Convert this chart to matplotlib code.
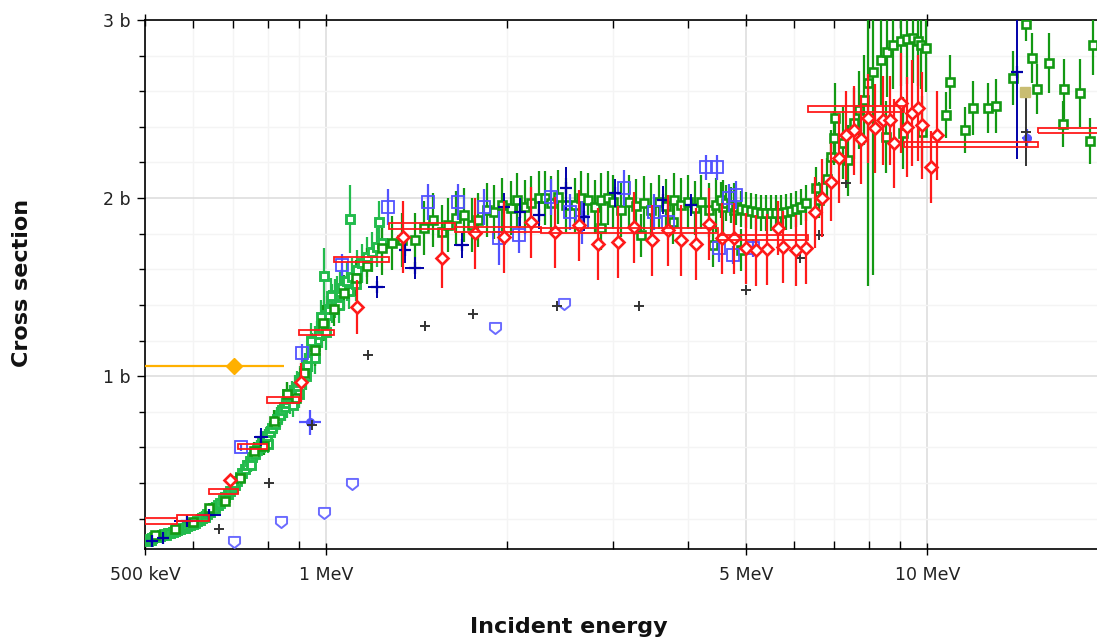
import matplotlib
matplotlib.use("Agg")
import matplotlib.pyplot as plt
from matplotlib.path import Path
from matplotlib.ticker import FixedLocator, FixedFormatter, NullFormatter

# ---------------- data (energy in MeV, cross section in barn) ----------------
# light-green dense data set (low energy rise)
lg_e = [0.505, 0.507, 0.512, 0.514, 0.518, 0.522, 0.526, 0.530, 0.534, 0.538, 0.542, 0.547,
        0.551, 0.556, 0.561, 0.566, 0.571, 0.577, 0.582, 0.588, 0.594, 0.600, 0.606, 0.611,
        0.617, 0.623, 0.629, 0.635, 0.641, 0.647, 0.653, 0.660, 0.666, 0.673, 0.679, 0.686,
        0.692, 0.699, 0.705, 0.712, 0.719, 0.726, 0.733, 0.740, 0.747, 0.754, 0.761, 0.769,
        0.776, 0.784, 0.791, 0.799, 0.806, 0.814, 0.821, 0.829, 0.837, 0.845, 0.853, 0.862,
        0.870, 0.878, 0.887, 0.895, 0.904, 0.913, 0.921, 0.930, 0.939, 0.948, 0.957, 0.966,
        0.975, 0.985, 0.994, 1.004, 1.013, 1.023, 1.033, 1.043, 1.053, 1.063, 1.083, 1.104,
        1.126, 1.147, 1.170, 1.192, 1.215, 1.239,
        0.860, 0.880, 0.900, 0.925, 0.945, 0.960, 0.980, 1.000, 1.020, 1.050, 1.090, 1.120,
        0.750, 0.700, 0.800, 0.992, 1.096, 1.224]
lg_y = [0.075, 0.084, 0.080, 0.090, 0.095, 0.101, 0.098, 0.101, 0.108, 0.112, 0.110, 0.118,
        0.121, 0.124, 0.130, 0.135, 0.140, 0.146, 0.150, 0.157, 0.163, 0.169, 0.178, 0.185,
        0.195, 0.202, 0.212, 0.225, 0.240, 0.253, 0.262, 0.275, 0.290, 0.303, 0.320, 0.337,
        0.355, 0.371, 0.390, 0.410, 0.432, 0.455, 0.478, 0.500, 0.522, 0.545, 0.565, 0.584,
        0.605, 0.624, 0.645, 0.663, 0.686, 0.708, 0.733, 0.758, 0.785, 0.809, 0.830, 0.848,
        0.870, 0.893, 0.915, 0.938, 0.965, 0.994, 1.030, 1.062, 1.100, 1.135, 1.170, 1.202,
        1.235, 1.270, 1.305, 1.343, 1.375, 1.410, 1.435, 1.455, 1.475, 1.494, 1.534, 1.556,
        1.596, 1.635, 1.669, 1.697, 1.725, 1.747,
        0.900, 0.840, 0.900, 1.000, 1.200, 1.100, 1.330, 1.250, 1.450, 1.400, 1.480, 1.520,
        0.500, 0.400, 0.620, 1.562, 1.882, 1.865]
lg_err = [0.03] * 21 + [0.04] * 15 + [0.05] * 10 + [0.06] * 8 + [0.07] * 4 + [0.08] * 4 + \
         [0.09] * 3 + [0.10] * 3 + [0.11] * 22 + \
         [0.07, 0.07, 0.08, 0.08, 0.10, 0.09, 0.10, 0.10, 0.10, 0.10, 0.10, 0.10,
          0.04, 0.04, 0.05, 0.16, 0.19, 0.12]

# dark-green data set (low-energy rise, plateau, 5-6 MeV dip, peak and high energy)
dg_e = [0.520, 0.560, 0.600, 0.640, 0.680, 0.720, 0.760, 0.790, 0.820, 0.860, 0.890, 0.920,
        0.960, 0.990, 1.030, 1.070, 1.120, 1.170,
        1.239, 1.287, 1.337, 1.405, 1.454, 1.508, 1.557, 1.597, 1.643, 1.697, 1.746, 1.786,
        1.849, 1.905, 1.958, 2.034, 2.081, 2.138, 2.196, 2.257, 2.309, 2.370, 2.435, 2.510,
        2.596, 2.658, 2.730, 2.804, 2.869, 2.944, 3.004, 3.097, 3.193, 3.279, 3.380, 3.472,
        3.580, 3.676, 3.790, 3.894, 3.998, 4.106, 4.202, 4.332, 4.451, 4.578, 4.767,
        2.869, 3.342, 3.778, 4.400, 4.896,
        4.536, 4.624, 4.713, 4.804, 4.896, 4.991, 5.087, 5.185, 5.285, 5.387, 5.490, 5.597,
        5.704, 5.814, 5.926, 6.040, 6.157, 6.276,
        6.52, 6.60, 6.80, 6.904, 6.985, 7.23, 7.39, 7.54, 7.70, 7.84, 7.96, 8.13, 8.36, 8.57,
        8.77, 9.02, 9.25, 9.45, 9.63, 9.77, 9.96, 8.52, 9.11, 9.78, 7.03,
        10.72, 10.92, 11.56, 11.91, 12.62, 12.99, 13.86, 14.94, 15.22, 15.92, 16.88, 16.81,
        17.94, 18.64, 18.85, 14.60]
dg_y = [0.110, 0.140, 0.180, 0.260, 0.300, 0.430, 0.580, 0.610, 0.750, 0.900, 0.880, 1.020,
        1.150, 1.300, 1.380, 1.470, 1.550, 1.620,
        1.719, 1.747, 1.764, 1.764, 1.831, 1.876, 1.809, 1.848, 1.888, 1.904, 1.848, 1.876,
        1.933, 1.921, 1.961, 1.944, 1.989, 1.949, 1.972, 2.000, 2.000, 1.972, 2.006, 1.961,
        1.961, 2.000, 1.989, 1.949, 1.989, 2.000, 1.978, 1.933, 1.978, 1.955, 1.972, 1.933,
        1.978, 1.955, 1.989, 1.961, 1.978, 1.944, 1.978, 1.933, 1.961, 1.949, 1.933,
        1.831, 1.792, 1.865, 1.736, 1.708,
        1.989, 1.972, 1.961, 1.949, 1.938, 1.933, 1.927, 1.921, 1.916, 1.916, 1.916, 1.916,
        1.916, 1.921, 1.927, 1.938, 1.949, 1.972,
        2.056, 1.990, 2.107, 2.230, 2.337, 2.309, 2.213, 2.421, 2.494, 2.551, 2.646, 2.708,
        2.775, 2.820, 2.860, 2.882, 2.893, 2.899, 2.882, 2.860, 2.843, 2.343, 2.365, 2.371,
        2.449,
        2.466, 2.652, 2.382, 2.506, 2.506, 2.517, 2.674, 2.787, 2.612, 2.758, 2.612, 2.416,
        2.590, 2.320, 2.860, 2.980]
dg_err = [0.02, 0.02, 0.03, 0.03, 0.03, 0.04, 0.05, 0.05, 0.06, 0.07, 0.07, 0.08,
          0.09, 0.10, 0.10, 0.10, 0.10, 0.10] + \
         [0.15] * 47 + [0.12] * 5 + [0.10] * 18 + \
         [0.12, 0.10, 0.12, 0.15, 0.15, 0.20, 0.20, 0.20, 0.22, 0.25, 1.14, 1.14, 0.25, 0.25,
          0.25, 0.25, 0.25, 0.25, 0.25, 0.25, 0.25, 0.20, 0.20, 0.20, 0.20] + \
         [0.13, 0.15, 0.13, 0.15, 0.14, 0.15, 0.15, 0.14, 0.14, 0.17, 0.17, 0.13,
          0.19, 0.13, 0.17, 0.10]

# blue open squares
bl_e = [0.723, 0.913, 1.063, 1.268, 1.480, 1.655, 1.828, 1.940, 2.090, 2.370, 2.540, 2.660,
        3.130, 3.510, 3.700, 4.280, 4.460, 4.510, 4.670, 4.800, 4.750, 5.130]
bl_y = [0.601, 1.129, 1.624, 1.949, 1.978, 1.978, 1.949, 1.775, 1.792, 2.006, 1.921, 1.865,
        2.056, 1.921, 1.865, 2.174, 2.174, 1.719, 2.000, 2.017, 1.680, 1.719]
bl_err = [0.02, 0.05, 0.06, 0.10, 0.10, 0.10, 0.10, 0.15, 0.10, 0.10, 0.10, 0.12,
          0.10, 0.10, 0.10, 0.07, 0.07, 0.08, 0.08, 0.08, 0.05, 0.05]

# blue filled points with energy bins
bf_e = [0.941, 14.65]
bf_y = [0.742, 2.337]
bf_xerr = [0.04, 0.3]
bf_err = [0.07, 0.05]

# navy crosses
nv_e = [0.514, 0.535, 0.588, 0.640, 0.780, 1.215, 1.405, 1.352, 1.681, 1.973, 2.100, 2.260,
        2.510, 2.690, 3.020, 3.640, 4.050, 14.10]
nv_y = [0.073, 0.090, 0.190, 0.220, 0.660, 1.500, 1.607, 1.708, 1.736, 1.949, 1.921, 1.904,
        2.056, 1.893, 2.028, 1.989, 1.961, 2.708]
nv_err = [0.02, 0.02, 0.03, 0.03, 0.05, 0.06, 0.06, 0.07, 0.07, 0.08, 0.08, 0.08,
          0.12, 0.08, 0.08, 0.08, 0.06, 0.49]
nv_xerr = [0.01, 0.01, 0.03, 0.03, 0.02, 0.04, 0.05, 0.03, 0.05, 0.03, 0.03, 0.03,
           0.03, 0.03, 0.03, 0.03, 0.03, 0.05]

# red diamonds
rd_e = [0.693, 0.909, 1.126, 1.343, 1.557, 1.766, 1.980, 2.196, 2.400, 2.630, 2.830, 3.060,
        3.250, 3.480, 3.700, 3.890, 4.120, 4.330, 4.550, 4.770, 4.990, 5.180, 5.410, 5.640,
        5.760, 6.040, 6.280, 6.490, 6.670, 6.900, 7.120, 7.320, 7.540, 7.760, 7.960, 8.190,
        8.420, 8.680, 8.810, 9.020, 9.250, 9.420, 9.630, 9.810, 10.12, 10.36]
rd_y = [0.416, 0.966, 1.388, 1.781, 1.663, 1.803, 1.781, 1.865, 1.809, 1.848, 1.742, 1.753,
        1.837, 1.764, 1.820, 1.764, 1.742, 1.854, 1.775, 1.775, 1.719, 1.708, 1.713, 1.831,
        1.725, 1.708, 1.719, 1.921, 2.000, 2.090, 2.225, 2.354, 2.382, 2.331, 2.449, 2.393,
        2.438, 2.438, 2.309, 2.534, 2.399, 2.478, 2.506, 2.410, 2.174, 2.354]
rd_err = [0.03, 0.11, 0.15, 0.20, 0.17, 0.20, 0.20, 0.20, 0.20, 0.20, 0.20, 0.20,
          0.20, 0.20, 0.20, 0.20, 0.20, 0.20, 0.20, 0.20, 0.20, 0.20, 0.20, 0.15,
          0.20, 0.20, 0.20, 0.20, 0.22, 0.22, 0.25, 0.25, 0.25, 0.25, 0.25, 0.25,
          0.25, 0.25, 0.25, 0.28, 0.28, 0.30, 0.30, 0.30, 0.20, 0.25]

# red evaluated group values (bins)
grp_lo = [0.500, 0.566, 0.640, 0.715, 0.798, 0.902, 1.031, 1.272, 1.636, 2.281, 4.484, 6.32, 9.125, 15.28]
grp_hi = [0.566, 0.640, 0.715, 0.798, 0.902, 1.031, 1.272, 1.636, 2.281, 4.484, 6.32, 9.125, 15.28, 20.0]
grp_val = [0.188, 0.205, 0.351, 0.607, 0.866, 1.247, 1.654, 1.843, 1.825, 1.820, 1.780, 2.500, 2.300, 2.380]

# black plus markers
bk_e = [0.665, 0.804, 0.948, 1.174, 1.459, 1.753, 2.425, 3.317, 4.99, 6.13, 6.60, 7.31, 14.60]
bk_y = [0.140, 0.399, 0.725, 1.118, 1.281, 1.348, 1.393, 1.393, 1.483, 1.663, 1.792, 2.084, 2.370]
bk_err = [0, 0, 0, 0, 0, 0, 0, 0, 0, 0, 0, 0, 0.19]

# light-blue shield markers
sh_e = [0.704, 0.842, 0.992, 1.104, 1.913, 2.490]
sh_y = [0.067, 0.180, 0.230, 0.393, 1.270, 1.404]

# orange point with energy range
or_e = [0.704]
or_y = [1.056]
or_xlo = [0.204]
or_xhi = [0.148]

# tan point
tn_e = [14.55]
tn_y = [2.595]

# ---------------- figure ----------------
W, H = 1097, 641
fig = plt.figure(figsize=(W / 100, H / 100), dpi=100)
ax = fig.add_axes([145 / W, 1 - 549 / H, (W - 145) / W, (549 - 20) / H])
ax.set_xscale('log')
ax.set_xlim(0.5, 19.14)
ax.set_ylim(0.03, 3.0)

LG = '#22bb4c'
DG = '#139913'
BL = '#5252ff'
NV = '#0000a8'
RD = '#ff1a1a'

def eb(x, y, yerr, color, marker, ms, mfc, mew, z, xerr=None, elw=1.6):
    ax.errorbar(x, y, yerr=yerr, xerr=xerr, fmt=marker, color=color, ecolor=color,
                ms=ms, mfc=mfc, mec=color, mew=mew, elinewidth=elw, capsize=0, zorder=z)

eb(lg_e, lg_y, lg_err, LG, 's', 5.5, 'white', 2.1, 3)
eb(dg_e, dg_y, dg_err, DG, 's', 5.5, 'white', 1.9, 3)
eb(bl_e, bl_y, bl_err, BL, 's', 8, 'none', 1.3, 4)
eb(bf_e, bf_y, bf_err, BL, 'o', 5.5, BL, 1.0, 4, xerr=bf_xerr)
eb(nv_e, nv_y, nv_err, NV, '+', 8, NV, 1.6, 4, xerr=nv_xerr, elw=1.4)

# shield marker
shield = Path([(-1, 1), (1, 1), (1, -0.2), (0, -1), (-1, -0.2), (-1, 1)],
              [Path.MOVETO, Path.LINETO, Path.LINETO, Path.LINETO, Path.LINETO, Path.CLOSEPOLY])
ax.plot(sh_e, sh_y, ls='none', marker=shield, ms=8, mfc='white', mec='#6b6bff', mew=1.4, zorder=5)

eb(bk_e, bk_y, bk_err, '#333333', '+', 7.5, '#333333', 1.4, 5, elw=1.4)
eb(rd_e, rd_y, rd_err, RD, 'D', 6.3, 'white', 1.9, 6)

ax.bar(x=grp_lo, height=0.03, width=[h - l for l, h in zip(grp_lo, grp_hi)],
       bottom=[v - 0.015 for v in grp_val], align='edge', fill=False,
       edgecolor=RD, linewidth=1.3, zorder=7)

ax.errorbar(or_e, or_y, xerr=[or_xlo, or_xhi], fmt='D', color='#ffb000', ms=8, mfc='#ffb000',
            mec='#ffb000', elinewidth=1.6, capsize=0, zorder=8)
ax.plot(tn_e, tn_y, ls='none', marker='s', ms=7.5, mfc='#c9bd72', mec='#c9bd72', zorder=8)

# ---------------- axes styling ----------------
ax.xaxis.set_major_locator(FixedLocator([0.5, 1, 5, 10]))
ax.xaxis.set_major_formatter(FixedFormatter(['500 keV', '1 MeV', '5 MeV', '10 MeV']))
ax.xaxis.set_minor_locator(FixedLocator([0.6, 0.7, 0.8, 0.9, 2, 3, 4, 6, 7, 8, 9]))
ax.xaxis.set_minor_formatter(NullFormatter())
ax.yaxis.set_major_locator(FixedLocator([1, 2, 3]))
ax.yaxis.set_major_formatter(FixedFormatter(['1 b', '2 b', '3 b']))
ax.yaxis.set_minor_locator(FixedLocator([0.2, 0.4, 0.6, 0.8, 1.2, 1.4, 1.6, 1.8,
                                         2.2, 2.4, 2.6, 2.8]))

ax.grid(True, which='major', color='#dedede', lw=1.2, zorder=0)
ax.grid(True, which='minor', color='#f4f4f4', lw=1.0, zorder=0)
ax.set_axisbelow(True)

for s in ['left', 'bottom', 'top']:
    ax.spines[s].set_color('black')
    ax.spines[s].set_linewidth(1.2)
ax.spines['right'].set_visible(False)

ax.tick_params(axis='y', which='major', direction='out', length=6, width=1, labelsize=12.5, pad=4)
ax.tick_params(axis='y', which='minor', direction='out', length=4.5, width=1)
ax.tick_params(axis='x', which='major', direction='inout', length=9, width=1, labelsize=12.5, pad=8,
               top=True)
ax.tick_params(axis='x', which='minor', direction='in', length=5.5, width=1, top=True)
for lab in ax.get_xticklabels() + ax.get_yticklabels():
    lab.set_color('#222222')

fig.text(569 / W, 1 - 627 / H, 'Incident energy', ha='center', va='center',
         fontsize=16, fontweight='bold', color='#111111')
fig.text(22 / W, 1 - 283 / H, 'Cross section', ha='center', va='center', rotation=90,
         fontsize=16, fontweight='bold', color='#111111')

fig.savefig('out.png', dpi=100)
